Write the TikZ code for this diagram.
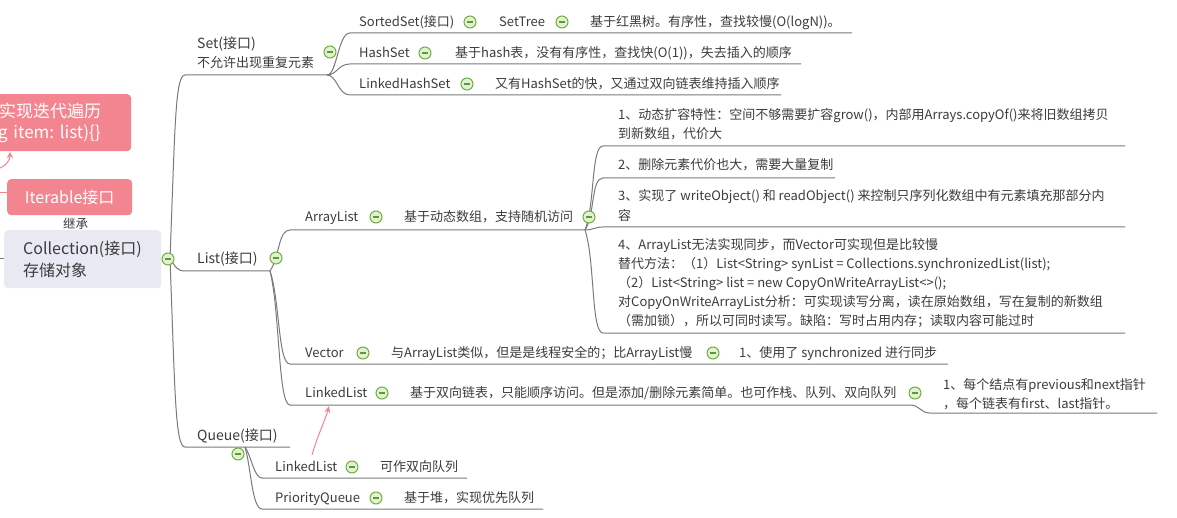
\documentclass[tikz,border=0pt]{standalone}
\usepackage{fontspec}
\setmainfont{Noto Sans CJK SC}
\usetikzlibrary{arrows.meta}
\frenchspacing
\definecolor{tcol}{HTML}{3C3C3C}
\definecolor{lcol}{HTML}{7A7A7A}
\definecolor{gline}{HTML}{6FAE3F}
\definecolor{gfill}{HTML}{E2F1D3}
\definecolor{gdash}{HTML}{5C9A33}
\definecolor{pinkc}{HTML}{F2858F}
\definecolor{rootfill}{HTML}{E8E9F2}
\newcommand\myfs[1]{\fontsize{#1pt}{19.5pt}\selectfont}
\tikzset{
  txt/.style={inner sep=0pt, anchor=west, text=tcol, font=\myfs{13}, text height=11.4pt, text depth=1.6pt},
  mtxt/.style={inner sep=0pt, anchor=west, text=tcol, font=\myfs{13}, align=left},
  ln/.style={draw=lcol, line width=1pt},
  pinkln/.style={draw=pinkc, line width=1pt},
  mbtn/.style={circle, minimum size=12pt, inner sep=0pt, draw=gline, line width=1pt, fill=gfill,
    path picture={\draw[gdash, line width=1.2pt] ([xshift=-3pt]path picture bounding box.center) -- ([xshift=3pt]path picture bounding box.center);}},
}
\begin{document}
\begin{tikzpicture}[x=1pt,y=-1pt]
\useasboundingbox (0,0) rectangle (1177,518);
\clip (0,0) rectangle (1177,518);
\fill[white] (0,0) rectangle (1177,518);

% ---------- left side boxes ----------
\node[anchor=north west, fill=pinkc, rounded corners=4pt, minimum width=136pt, minimum height=57pt,
      inner xsep=23pt, inner ysep=0pt, text width=110pt, align=left, text=white,
      font={\fontsize{17pt}{21pt}\selectfont}] (pinkbox) at (-25,94) {\hspace*{1pt}实现迭代遍历\\g item: list)\{\}};
\node[anchor=north west, fill=pinkc, rounded corners=4pt, minimum width=125pt, minimum height=36pt,
      inner sep=0pt, text=white, font=\myfs{16}] (iter) at (7,179) {Iterable接口};
\node[anchor=north west, fill=rootfill, rounded corners=4pt, minimum width=157pt, minimum height=58pt,
      inner xsep=19pt, inner ysep=0pt, text width=119pt, align=left, text=tcol,
      font={\fontsize{16pt}{22pt}\selectfont}] (coll) at (4,230) {Collection(接口)\\存储对象};
\node[txt, font=\myfs{12.5}] (jc) at (63,224) {继承};

\coordinate (pa1) at (0,168);
\coordinate (pa2) at (10,152);
\draw[pinkln, -{Stealth[length=6pt,width=6pt]}] (pa1) .. controls +(6,-2) and +(0,8) .. (pa2);
\coordinate (pl0) at (0,193);
\draw[pinkln] (pl0) -- (iter.west |- pl0);
\coordinate (gl0) at (0,259);
\draw[ln] (gl0) -- (coll.west |- gl0);

% ---------- coordinates ----------
\coordinate (j0) at (170,259);
\coordinate (setL) at (185,75);   \coordinate (setR) at (327,75);
\coordinate (listL) at (185,271); \coordinate (listR) at (270,271);
\coordinate (queL) at (185,447);  \coordinate (queR) at (290,447);
\coordinate (queJ) at (245,447);
\coordinate (r1L) at (350,33);  \coordinate (r1R) at (852,33);
\coordinate (r2L) at (350,64);  \coordinate (r2R) at (801,64);
\coordinate (r3L) at (350,95);  \coordinate (r3R) at (781,95);
\coordinate (alL) at (290,230); \coordinate (alR) at (585,230);
\coordinate (i1L) at (603,146); \coordinate (i1R) at (1125,146);
\coordinate (i2L) at (603,178); \coordinate (i2R) at (835,178);
\coordinate (i3L) at (603,227); \coordinate (i3R) at (1125,227);
\coordinate (i4L) at (603,333); \coordinate (i4R) at (1125,333);
\coordinate (veL) at (290,364); \coordinate (veR) at (948,364);
\coordinate (llL) at (290,405); \coordinate (llR) at (910,405);
\coordinate (lcL) at (930,413); \coordinate (lcR) at (1157,413);
\coordinate (qlL) at (262,478); \coordinate (qlR) at (467,478);
\coordinate (pqL) at (262,509); \coordinate (pqR) at (543,509);

% ---------- connectors ----------
\draw[ln] (j0) .. controls +(5,-130) and +(-10,0) .. (setL) -- (setR);
\draw[ln] (j0) .. controls +(6,8) and +(-8,0) .. (listL) -- (listR);
\draw[ln] (j0) .. controls +(5,130) and +(-10,0) .. (queL) -- (queR);

\draw[ln] (setR) .. controls +(10,0) and +(-12,0) .. (r1L) -- (r1R);
\draw[ln] (setR) .. controls +(10,0) and +(-12,0) .. (r2L) -- (r2R);
\draw[ln] (setR) .. controls +(10,0) and +(-12,0) .. (r3L) -- (r3R);

\draw[ln] (listR) .. controls +(10,-15) and +(-12,0) .. (alL) -- (alR);
\draw[ln] (listR) .. controls +(10,30) and +(-12,0) .. (veL) -- (veR);
\draw[ln] (listR) .. controls +(10,40) and +(-12,0) .. (llL) -- (llR);
\draw[ln] (llR) .. controls +(10,0) and +(-10,0) .. (lcL) -- (lcR);

\draw[ln] (alR) .. controls +(10,-25) and +(-12,0) .. (i1L) -- (i1R);
\draw[ln] (alR) .. controls +(10,-15) and +(-12,0) .. (i2L) -- (i2R);
\draw[ln] (alR) .. controls +(8,0) and +(-8,0) .. (i3L) -- (i3R);
\draw[ln] (alR) .. controls +(10,30) and +(-12,0) .. (i4L) -- (i4R);

\draw[ln] (queJ) .. controls +(6,8) and +(-8,0) .. (qlL) -- (qlR);
\draw[ln] (queJ) .. controls +(6,20) and +(-10,0) .. (pqL) -- (pqR);

% ---------- topic texts ----------
\node[mtxt] (set) at (197,52.5) {{\fontsize{14pt}{19pt}\selectfont Set(接口)}\\不允许出现重复元素};
\node[txt, font=\myfs{14}] (list) at (197,259) {List(接口)};
\node[txt, font=\myfs{14}] (queue) at (197,436) {Queue(接口)};

\node[txt] (sorted) at (359,22) {SortedSet(接口)};
\node[txt] (settree) at (499,22) {SetTree};
\node[txt] (d1) at (590,22) {基于红黑树。有序性，查找较慢(O(logN))。};
\node[txt] (hashset) at (359,53) {HashSet};
\node[txt] (d2) at (455,53) {基于hash表，没有有序性，查找快(O(1))，失去插入的顺序};
\node[txt] (lhs) at (359,84) {LinkedHashSet};
\node[txt] (d3) at (495,84) {又有HashSet的快，又通过双向链表维持插入顺序};

\node[txt] (al) at (305,217) {ArrayList};
\node[txt] (ald) at (404,217) {基于动态数组，支持随机访问};
\node[mtxt] (it1) at (618,124) {1、动态扩容特性：空间不够需要扩容grow()，内部用Arrays.copyOf()来将旧数组拷贝\\到新数组，代价大};
\node[txt] (it2) at (618,165) {2、删除元素代价也大，需要大量复制};
\node[mtxt] (it3) at (618,205.5) {3、实现了 writeObject() 和 readObject() 来控制只序列化数组中有元素填充那部分内\\容};
\node[mtxt, font={\fontsize{13pt}{19pt}\selectfont}] (it4) at (618,283) {4、ArrayList无法实现同步，而Vector可实现但是比较慢\\替代方法：（1）List<String> synList = Collections.synchronizedList(list);\\（2）List<String> list = new CopyOnWriteArrayList<>();\\对CopyOnWriteArrayList分析：可实现读写分离，读在原始数组，写在复制的新数组\\（需加锁），所以可同时读写。缺陷：写时占用内存；读取内容可能过时};

\node[txt] (vec) at (305,353) {Vector};
\node[txt] (vecd) at (391,353) {与ArrayList类似，但是是线程安全的；比ArrayList慢};
\node[txt] (vecc) at (739,353) {1、使用了 synchronized 进行同步};

\node[txt] (ll) at (305,393) {LinkedList};
\node[txt] (lld) at (410,393) {基于双向链表，只能顺序访问。但是添加/删除元素简单。也可作栈、队列、双向队列};
\node[mtxt] (llc) at (943,394) {1、每个结点有previous和next指针\\，每个链表有first、last指针。};

\node[txt] (qll) at (275,467) {LinkedList};
\node[txt] (qlld) at (380,467) {可作双向队列};
\node[txt] (pq) at (275,498) {PriorityQueue};
\node[txt] (pqd) at (404,498) {基于堆，实现优先队列};

% ---------- collapse buttons ----------
\node[mbtn] (b0) at (168,259) {};
\node[mbtn] (bset) at (330,52) {};
\node[mbtn] (blist) at (276,258) {};
\node[mbtn] (bque) at (238,454) {};
\node[mbtn] (bs1) at (470,22) {};
\node[mbtn] (bs2) at (562,22) {};
\node[mbtn] (bh) at (425,53) {};
\node[mbtn] (blh) at (467,84) {};
\node[mbtn] (bal) at (376,217) {};
\node[mbtn] (bald) at (589,217) {};
\node[mbtn] (bve) at (363,353) {};
\node[mbtn] (bved) at (713,353) {};
\node[mbtn] (bll) at (382,393) {};
\node[mbtn] (blld) at (915,393) {};
\node[mbtn] (bql) at (352,467) {};
\node[mbtn] (bpq) at (376,498) {};

% ---------- pink cross-link ----------
\coordinate (qa) at (312,455);
\coordinate (la) at (329,406);
\draw[pinkln, -{Stealth[length=7pt,width=6pt]}] (qa) .. controls +(5,-18) and +(-3,12) .. (la);
\end{tikzpicture}
\end{document}
